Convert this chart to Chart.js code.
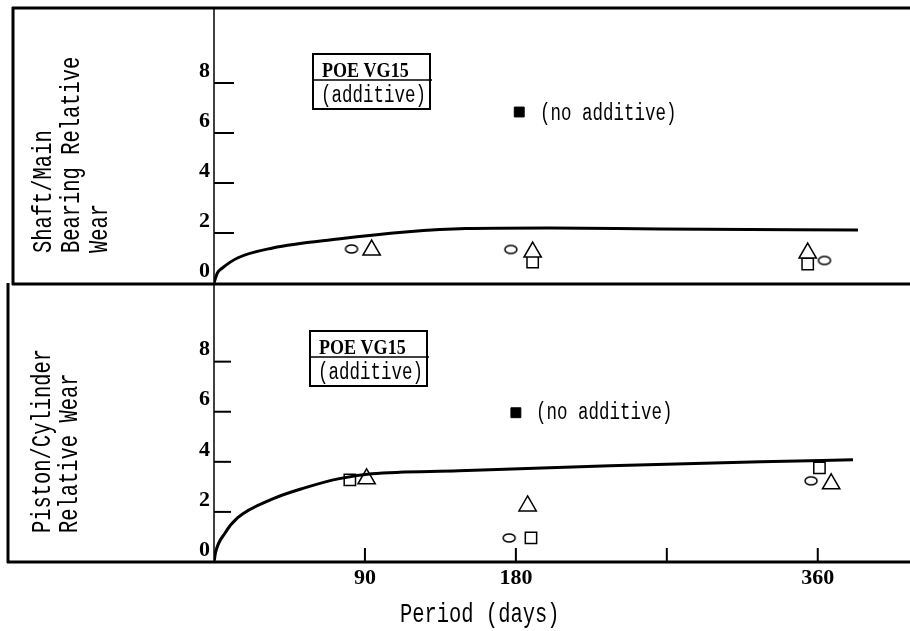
<!DOCTYPE html>
<html>
<head>
<meta charset="utf-8">
<script src="https://cdn.jsdelivr.net/npm/chart.js@4.4.1/dist/chart.umd.min.js"></script>
<style>
  body { margin: 0; background: #fff; }
  #wrap { position: relative; width: 910px; height: 631px; }
  canvas { position: absolute; left: 0; top: 0; }
</style>
</head>
<body>
<div id="wrap">
  <canvas id="chartShaft" width="910" height="631"></canvas>
  <canvas id="chartPiston" width="910" height="631"></canvas>
</div>
<script>
// axis ticks
const xTicks = [90, 180, 270, 360];
const xTickLabels = ['90', '180', '', '360'];
const yTicks = [0, 2, 4, 6, 8];

// shaft / main bearing (top panel)
const shaftFitDays = [0, 2, 5, 14, 35, 74, 114, 150, 200, 266, 384];
const shaftFitWear = [0, 0.4, 0.6, 1.0, 1.4, 1.76, 2.04, 2.18, 2.2, 2.16, 2.12];
const shaftCircleDays = [82, 177, 364];
const shaftCircleWear = [1.36, 1.34, 0.9];
const shaftTriangleDays = [94, 190, 354];
const shaftTriangleWear = [1.32, 1.24, 1.2];
const shaftSquareDays = [190, 354];
const shaftSquareWear = [0.84, 0.76];
const shaftNoAddDays = [182];
const shaftNoAddWear = [6.84];

// piston / cylinder (bottom panel)
const pistonFitDays = [0, 1, 6.6, 14, 35, 54, 74, 94, 146, 236, 326, 381];
const pistonFitWear = [0, 0.4, 1.16, 1.76, 2.52, 2.96, 3.32, 3.52, 3.64, 3.84, 4.0, 4.08];
const pistonCircleDays = [176, 356];
const pistonCircleWear = [0.96, 3.24];
const pistonTriangleDays = [91, 187, 368];
const pistonTriangleWear = [3.32, 2.24, 3.12];
const pistonSquareDays = [81, 189, 361];
const pistonSquareWear = [3.28, 0.96, 3.76];
const pistonNoAddDays = [180];
const pistonNoAddWear = [5.96];

const pts = (xs, ys) => xs.map((x, i) => ({x: x, y: ys[i]}));

// little ellipse used as the "circle" marker
const ellipse = document.createElement('canvas');
ellipse.width = 16;
ellipse.height = 12;
(() => {
    const c = ellipse.getContext('2d');
    c.lineWidth = 1.5;
    c.strokeStyle = '#000';
    c.fillStyle = '#fff';
    c.beginPath();
    c.ellipse(8, 6, 6, 4, 0, 0, Math.PI * 2);
    c.fill();
    c.stroke();
})();

const MONO = '"Liberation Mono", "DejaVu Sans Mono", monospace';
const SERIF = '"Liberation Serif", "DejaVu Serif", serif';

// text with horizontal squeeze, optional rotation
const writeText = (ctx, str, x, y, size, family, sx, rot, weight) => {
    ctx.save();
    ctx.translate(x, y);
    if (rot) ctx.rotate(rot);
    ctx.scale(sx, 1);
    ctx.font = (weight || 'normal') + ' ' + size + 'px ' + family;
    ctx.fillStyle = '#000';
    ctx.textAlign = 'left';
    ctx.textBaseline = 'alphabetic';
    ctx.fillText(str, 0, 0);
    ctx.restore();
}

const line = (ctx, x1, y1, x2, y2, w) => {
    ctx.save();
    ctx.strokeStyle = '#000';
    ctx.lineWidth = w;
    ctx.beginPath();
    ctx.moveTo(x1, y1);
    ctx.lineTo(x2, y2);
    ctx.stroke();
    ctx.restore();
}

const poeBox = (ctx, left, top, right, mid, bottom) => {
    ctx.save();
    ctx.strokeStyle = '#000';
    ctx.lineWidth = 2;
    ctx.strokeRect(left, top, right - left, bottom - top);
    ctx.restore();
    line(ctx, left, mid, right + 2, mid, 1.5);
    writeText(ctx, 'POE VG15', left + 9, mid - 3, 22, SERIF, 0.82, 0, 'bold');
    writeText(ctx, '(additive)', left + 8, bottom - 7, 23, MONO, 0.76);
}

const markerSets = (circle, triangle, square, noAdd) => [
    {
        data: circle, pointStyle: ellipse, pointRadius: 6, showLine: false
    },
    {
        data: triangle, pointStyle: 'triangle', pointRadius: 10,
        borderColor: '#000', backgroundColor: '#fff', borderWidth: 1.5, showLine: false
    },
    {
        data: square, pointStyle: 'rect', pointRadius: 8,
        borderColor: '#000', backgroundColor: '#fff', borderWidth: 1.5, showLine: false
    },
    {
        data: noAdd, pointStyle: 'rect', pointRadius: 7,
        borderColor: '#000', backgroundColor: '#000', borderWidth: 1, showLine: false
    }
];

const fitSet = (data) => ({
    data: data, showLine: true, pointRadius: 0, borderColor: '#000',
    borderWidth: 3, cubicInterpolationMode: 'monotone', fill: false
});

const yAxis = (max) => ({
    type: 'linear', min: 0, max: max,
    afterBuildTicks: (axis) => { axis.ticks = yTicks.map(v => ({value: v})); },
    afterFit: (axis) => {
        axis.width = 214;
        axis.paddingTop = 0;
        axis.paddingBottom = 0;
    },
    grid: { display: false, drawTicks: false },
    border: { display: false },
    ticks: {
        padding: 4, labelOffset: -12, color: '#000',
        font: { family: SERIF, size: 22, weight: 'bold' }
    }
});

const shaftDecor = {
    id: 'shaftDecor',
    afterDraw: (chart) => {
        const ctx = chart.ctx;
        const y = chart.scales.y;
        // frame
        line(ctx, 12, 8, 910, 8, 3);
        line(ctx, 13, 7, 13, 285, 3);
        line(ctx, 12, 284, 910, 284, 3);
        // inward y ticks
        yTicks.forEach(v => {
            const py = y.getPixelForValue(v);
            if (v > 0) line(ctx, 214, py, 234, py, 2);
        });
        poeBox(ctx, 313, 54, 430, 80, 109);
        writeText(ctx, '(no additive)', 540, 120, 23, MONO, 0.76);
        const rot = -Math.PI / 2;
        writeText(ctx, 'Shaft/Main', 51, 253, 28, MONO, 0.73, rot);
        writeText(ctx, 'Bearing Relative', 79, 253, 28, MONO, 0.73, rot);
        writeText(ctx, 'Wear', 107, 253, 28, MONO, 0.73, rot);
    }
};

const pistonDecor = {
    id: 'pistonDecor',
    afterDraw: (chart) => {
        const ctx = chart.ctx;
        const y = chart.scales.y;
        const x = chart.scales.x;
        // frame + y axis line
        line(ctx, 8, 283, 8, 563, 3);
        line(ctx, 7, 562, 910, 562, 3);
        line(ctx, 214, 7, 214, 563, 1.5);
        yTicks.forEach(v => {
            const py = y.getPixelForValue(v);
            if (v > 0) line(ctx, 214, py, 231, py, 2);
        });
        xTicks.forEach(v => {
            const px = x.getPixelForValue(v);
            line(ctx, px, 562, px, 548, 2);
        });
        poeBox(ctx, 310, 331, 427, 357, 386);
        writeText(ctx, '(no additive)', 536, 419, 23, MONO, 0.76);
        const rot = -Math.PI / 2;
        writeText(ctx, 'Piston/Cylinder', 50, 533, 28, MONO, 0.73, rot);
        writeText(ctx, 'Relative Wear', 77, 533, 28, MONO, 0.73, rot);
        writeText(ctx, 'Period (days)', 400, 622, 28, MONO, 0.73);
    }
};

const baseOptions = {
    responsive: false,
    animation: false,
    devicePixelRatio: 1,
    plugins: { legend: { display: false }, tooltip: { enabled: false } }
};

var ctxTop = document.getElementById('chartShaft').getContext('2d');
var shaftChart = new Chart(ctxTop, {
    type: 'scatter',
    data: {
        datasets: [fitSet(pts(shaftFitDays, shaftFitWear))].concat(markerSets(
            pts(shaftCircleDays, shaftCircleWear),
            pts(shaftTriangleDays, shaftTriangleWear),
            pts(shaftSquareDays, shaftSquareWear),
            pts(shaftNoAddDays, shaftNoAddWear)
        ))
    },
    options: Object.assign({}, baseOptions, {
        layout: { autoPadding: false, padding: { top: 8, bottom: 348, left: 0, right: 0 } },
        scales: {
            x: { type: 'linear', min: 0, max: 415, display: false },
            y: yAxis(11)
        }
    }),
    plugins: [shaftDecor]
});

var ctxBottom = document.getElementById('chartPiston').getContext('2d');
var pistonChart = new Chart(ctxBottom, {
    type: 'scatter',
    data: {
        datasets: [fitSet(pts(pistonFitDays, pistonFitWear))].concat(markerSets(
            pts(pistonCircleDays, pistonCircleWear),
            pts(pistonTriangleDays, pistonTriangleWear),
            pts(pistonSquareDays, pistonSquareWear),
            pts(pistonNoAddDays, pistonNoAddWear)
        ))
    },
    options: Object.assign({}, baseOptions, {
        layout: { autoPadding: false, padding: { top: 284, bottom: 0, left: 0, right: 0 } },
        scales: {
            x: {
                type: 'linear', min: 0, max: 415,
                afterBuildTicks: (axis) => { axis.ticks = xTicks.map(v => ({value: v})); },
                afterFit: (axis) => {
                    axis.height = 69;
                    axis.paddingLeft = 0;
                    axis.paddingRight = 0;
                },
                grid: { display: false, drawTicks: false },
                border: { display: false },
                ticks: {
                    autoSkip: false, maxRotation: 0, padding: 3, color: '#000',
                    font: { family: SERIF, size: 22, weight: 'bold' },
                    callback: (v, i) => xTickLabels[i]
                }
            },
            y: yAxis(11.1)
        }
    }),
    plugins: [pistonDecor]
});
</script>
</body>
</html>
